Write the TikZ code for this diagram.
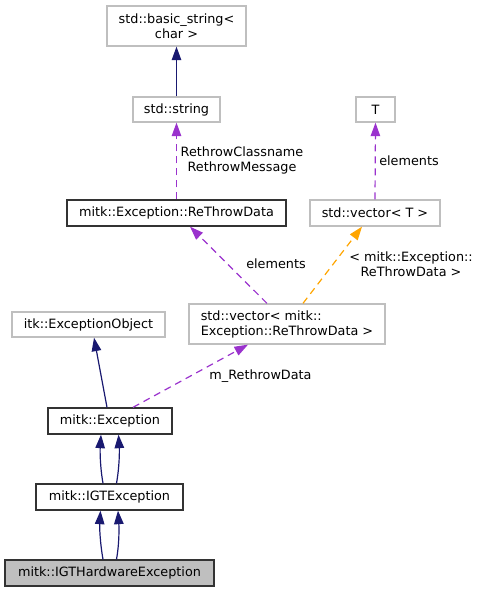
\documentclass[tikz,border=0pt]{standalone}
\usepackage{fontspec}
\setmainfont{DejaVu Sans}
\usetikzlibrary{arrows.meta}
\definecolor{navy}{HTML}{191970}
\definecolor{orchid}{HTML}{9A32CD}
\definecolor{orng}{HTML}{FFA500}
\definecolor{gry}{HTML}{BFBFBF}
\begin{document}
\begin{tikzpicture}[x=1pt,y=-1pt,
  every node/.style={font=\fontsize{12.8pt}{15pt}\selectfont, inner sep=0pt},
  box/.style={draw=gry, line width=1.3pt, fill=white, minimum width=#1, align=center},
  docbox/.style={draw=black!80, line width=1.3pt, fill=white, minimum width=#1, minimum height=26pt},
  lbl/.style={align=center},
  inh/.style={navy, line width=1.2pt, -{Triangle[length=13.5pt,width=9.5pt]}},
  use/.style={orchid, line width=1.2pt, dash pattern=on 7pt off 5pt, -{Triangle[length=13.5pt,width=9.5pt]}},
  tmpl/.style={orng, line width=1.2pt, dash pattern=on 7pt off 5pt, -{Triangle[length=13.5pt,width=9.5pt]}}
]
\useasboundingbox (0,0) rectangle (479,592);

\node[box=139pt, minimum height=40pt] (bs) at (176.5,26) {std::basic\_string<\\char >};
\node[box=87pt, minimum height=25pt] (str) at (176.5,109.5) {std::string};
\node[box=39pt, minimum height=25pt] (T) at (375.5,109.5) {T};
\node[docbox=219pt] (rtd) at (176.5,213) {mitk::Exception::ReThrowData};
\node[box=130pt, minimum height=26pt] (vecT) at (375,213) {std::vector< T >};
\node[box=196pt, minimum height=40pt, align=left] (vecR) at (287,324) {std::vector< mitk::\\Exception::ReThrowData >};
\node[box=153pt, minimum height=25pt] (itk) at (88.5,324.5) {itk::ExceptionObject};
\node[docbox=124pt] (exc) at (110,421) {mitk::Exception};
\node[docbox=147pt] (igt) at (109.5,497) {mitk::IGTException};
\node[docbox=209pt, fill=gry] (hw) at (109.5,573) {mitk::IGTHardwareException};

\draw[inh] (str.north) -- (bs.south);
\draw[use] (rtd.north) -- (str.south);
\node[lbl] (l1) at (242,160) {RethrowClassname\\RethrowMessage};
\draw[use] (vecT.north) -- (T.south);
\node[lbl] (l2) at (409,160.5) {elements};
\draw[use] ([xshift=-20pt]vecR.north) -- ([xshift=13.5pt]rtd.south);
\node[lbl] (l3) at (276,264) {elements};
\draw[tmpl] ([xshift=16pt]vecR.north) -- ([xshift=-13pt]vecT.south);
\node[lbl] (l4) at (411,264) {< mitk::Exception::\\ReThrowData >};
\draw[inh] ([xshift=-3pt]exc.north) -- ([xshift=5.5pt]itk.south);
\draw[use] ([xshift=23pt]exc.north) -- ([xshift=-39pt]vecR.south);
\node[lbl] (l5) at (260.5,376) {m\_RethrowData};

\draw[inh] ([xshift=-6.5pt]igt.north) .. controls +(-3,-17) and +(-1,16) .. ([xshift=-9pt]exc.south);
\draw[inh] ([xshift=7pt]igt.north) .. controls +(3,-17) and +(1,16) .. ([xshift=8.5pt]exc.south);
\draw[inh] ([xshift=-6.5pt]hw.north) .. controls +(-3,-17) and +(-1,16) .. ([xshift=-9pt]igt.south);
\draw[inh] ([xshift=7pt]hw.north) .. controls +(3,-17) and +(1,16) .. ([xshift=8.5pt]igt.south);
\end{tikzpicture}
\end{document}
